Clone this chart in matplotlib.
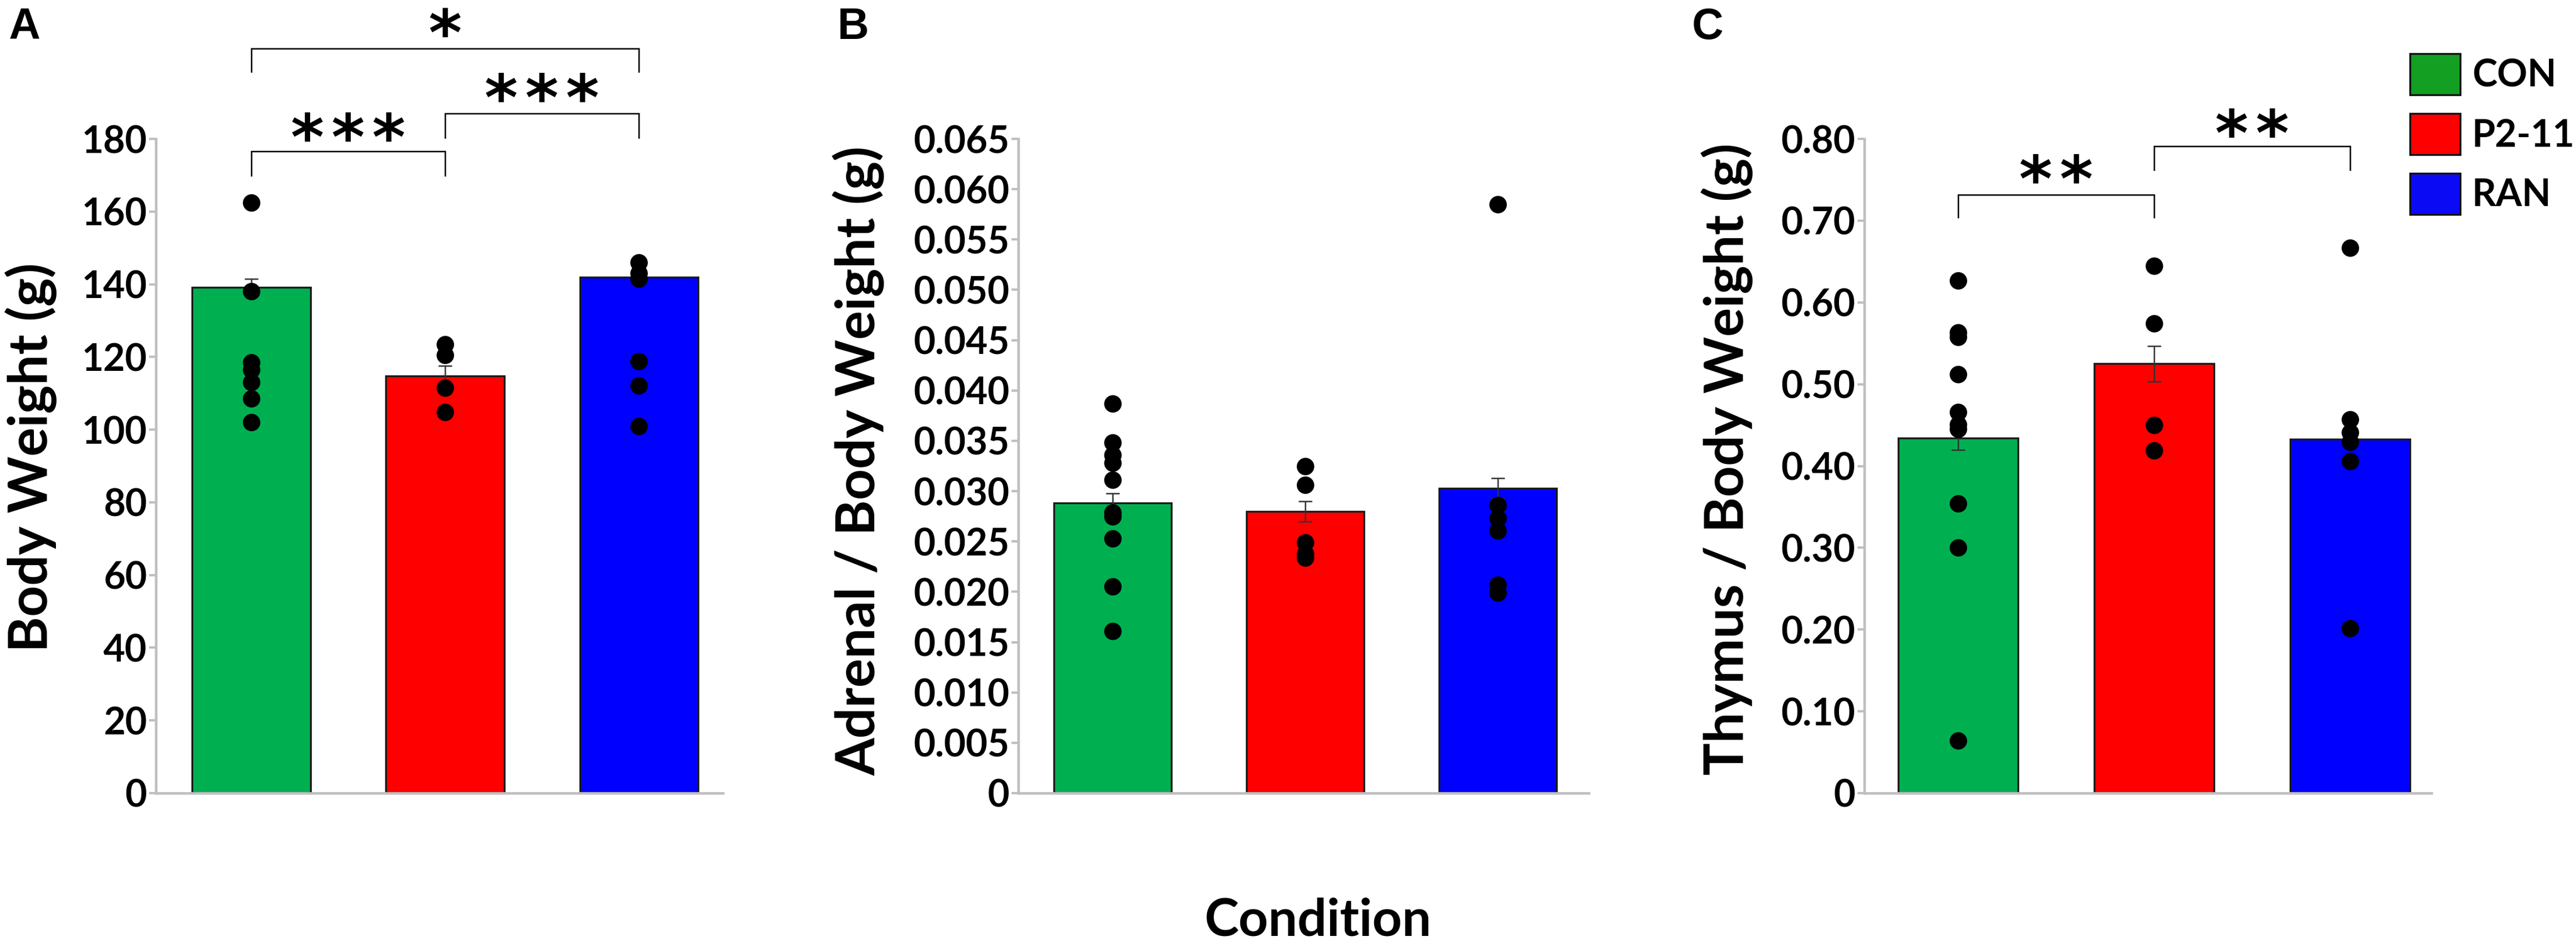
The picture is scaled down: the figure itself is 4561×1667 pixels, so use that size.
import matplotlib
matplotlib.use('Agg')
import matplotlib.pyplot as plt
from matplotlib.patches import Patch

# ---------------- data ----------------
categories = ['CON', 'P2-11', 'RAN']
bar_colors = ['#00B050', '#FF0000', '#0000FF']
legend_colors = ['#129F22', '#FF0000', '#0A0AF5']

bw_mean = [139.2, 114.8, 142.0]
bw_sem = [2.3, 2.8, 2.0]
bw_con = [162.5, 138.0, 118.5, 116.5, 113.0, 108.5, 102.0]
bw_p211 = [123.5, 120.5, 111.5, 104.8]
bw_ran = [146.0, 143.0, 141.5, 118.8, 112.2, 101.0]
bw_ticklabels = ['0', '20', '40', '60', '80', '100', '120', '140', '160', '180']

adr_mean = [0.0288, 0.0280, 0.0303]
adr_sem = [0.0010, 0.0010, 0.0010]
adr_con = [0.0387, 0.0348, 0.0336, 0.0328, 0.0311, 0.0279, 0.0275, 0.0253, 0.0205, 0.0161]
adr_p211 = [0.0325, 0.0306, 0.0249, 0.0238, 0.0234]
adr_ran = [0.0585, 0.0286, 0.0273, 0.0261, 0.0207, 0.0199]
adr_ticklabels = ['0', '0.005', '0.010', '0.015', '0.020', '0.025', '0.030',
                  '0.035', '0.040', '0.045', '0.050', '0.055', '0.060', '0.065']

thy_mean = [0.434, 0.525, 0.433]
thy_sem = [0.014, 0.022, 0.008]
thy_con = [0.627, 0.563, 0.5575, 0.512, 0.466, 0.451, 0.445, 0.354, 0.300, 0.064]
thy_p211 = [0.645, 0.574, 0.450, 0.419]
thy_ran = [0.667, 0.457, 0.441, 0.429, 0.406, 0.2015]
thy_ticklabels = ['0', '0.10', '0.20', '0.30', '0.40', '0.50', '0.60', '0.70', '0.80']

bw_sig = [(0, 1, '***'), (1, 2, '***'), (0, 2, '*')]
thy_sig = [(0, 1, '**'), (1, 2, '**')]

# ---------------- layout / style ----------------
W, H, DPI = 4561, 1667, 300
FONT = 'Lato'
GRAY = '#BFBFBF'

plt.rcParams['font.family'] = [FONT, 'DejaVu Sans']
plt.rcParams['font.weight'] = 'bold'

fig = plt.figure(figsize=(W / DPI, H / DPI), dpi=DPI)

panel_specs = [
    dict(left=276, right=1280, xlim=(-0.493, 2.434)),
    dict(left=1803, right=2813, xlim=(-0.49, 2.472)),
    dict(left=3301, right=4305, xlim=(-0.478, 2.415)),
]
bottom_px, top_px = 1405, 246

# bracket layout: (yh, ydrop, ystar) per comparison
bw_brackets = [(176.6, 169.9, 184.0), (187.0, 180.3, 194.9), (204.9, 198.5, 212.8)]
thy_brackets = [(0.7319, 0.7044, 0.767), (0.7911, 0.7622, 0.8227)]

STAR_FS = 27
STAR_STEP_PT = 72 * 72 / DPI


def make_ax(spec):
    l = spec['left'] / W
    w = (spec['right'] - spec['left']) / W
    b = 1 - bottom_px / H
    h = (bottom_px - top_px) / H
    return fig.add_axes([l, b, w, h])


def draw_panel(ax, means, sems, groups, ticklabels, ymax, xlim):
    x = list(range(len(categories)))
    ax.bar(x, means, width=0.61, color=bar_colors, edgecolor='#1a1a1a',
           linewidth=0.8, zorder=2)
    ax.errorbar(x, means, yerr=sems, fmt='none', ecolor='#333333',
                elinewidth=0.6, capsize=2.8, capthick=0.6, zorder=3)
    for xi, pts in zip(x, groups):
        ax.scatter([xi] * len(pts), pts, s=55, color='black', zorder=4,
                   linewidths=0, clip_on=False)
    ax.set_xlim(*xlim)
    ax.set_ylim(0, ymax)
    ax.set_xticks([])
    ticks = [float(t) for t in ticklabels]
    ax.set_yticks(ticks)
    ax.set_yticklabels(ticklabels, fontsize=16, fontweight='bold', fontfamily=FONT)
    for s in ['top', 'right']:
        ax.spines[s].set_visible(False)
    for s in ['left', 'bottom']:
        ax.spines[s].set_color(GRAY)
        ax.spines[s].set_linewidth(1.1)
    ax.tick_params(axis='y', direction='out', length=3, width=1.0, color=GRAY, pad=0.8)
    ax.patch.set_alpha(0)


def draw_sig(ax, sigs, brackets):
    for (i, j, stars), (yh, yd, ys) in zip(sigs, brackets):
        ax.plot([i, i, j, j], [yd, yh, yh, yd], color='black', lw=0.6,
                clip_on=False, zorder=5, solid_joinstyle='miter')
        n = len(stars)
        for k, ch in enumerate(stars):
            dx = (k - (n - 1) / 2) * STAR_STEP_PT
            ax.annotate(ch, xy=((i + j) / 2, ys), xycoords='data',
                        xytext=(dx, -0.553 * STAR_FS), textcoords='offset points',
                        ha='center', va='baseline', fontsize=STAR_FS,
                        fontweight='bold', fontfamily='DejaVu Sans',
                        annotation_clip=False)


axA = make_ax(panel_specs[0])
draw_panel(axA, bw_mean, bw_sem, [bw_con, bw_p211, bw_ran], bw_ticklabels, 180,
           panel_specs[0]['xlim'])
draw_sig(axA, bw_sig, bw_brackets)

axB = make_ax(panel_specs[1])
draw_panel(axB, adr_mean, adr_sem, [adr_con, adr_p211, adr_ran], adr_ticklabels, 0.065,
           panel_specs[1]['xlim'])

axC = make_ax(panel_specs[2])
draw_panel(axC, thy_mean, thy_sem, [thy_con, thy_p211, thy_ran], thy_ticklabels, 0.80,
           panel_specs[2]['xlim'])
draw_sig(axC, thy_sig, thy_brackets)

# y labels
YL_FS = 23
fig.text(55 / W, 1 - 810 / H, 'Body Weight (g)', rotation=90, ha='center', va='center',
         fontsize=YL_FS, fontweight='bold', fontfamily=FONT)
fig.text(1520 / W, 1 - 816 / H, 'Adrenal / Body Weight (g)', rotation=90, ha='center',
         va='center', fontsize=YL_FS, fontweight='bold', fontfamily=FONT)
fig.text(3058 / W, 1 - 813 / H, 'Thymus / Body Weight (g)', rotation=90, ha='center',
         va='center', fontsize=YL_FS, fontweight='bold', fontfamily=FONT)

fig.text(2334 / W, 1 - 1658 / H, 'Condition', ha='center', va='baseline',
         fontsize=22, fontweight='bold', fontfamily=FONT)

# panel letters
for letter, px in [('A', 15), ('B', 1483), ('C', 2996)]:
    fig.text(px / W, 1 - 12 / H, letter, ha='left', va='top', fontsize=18.5,
             fontweight='bold', fontfamily='Liberation Sans')

# legend
handles = [Patch(facecolor=c, edgecolor='#111111', linewidth=0.8) for c in legend_colors]
axC.legend(handles, categories, loc='upper left', bbox_to_anchor=(4267 / W, 1 - 95 / H),
           bbox_transform=fig.transFigure, frameon=False,
           prop=dict(family=FONT, weight='bold', size=16),
           handlelength=1.34, handleheight=1.31, handletextpad=0.31,
           labelspacing=0.49, borderpad=0, borderaxespad=0)

fig.savefig('out.png', dpi=DPI)
